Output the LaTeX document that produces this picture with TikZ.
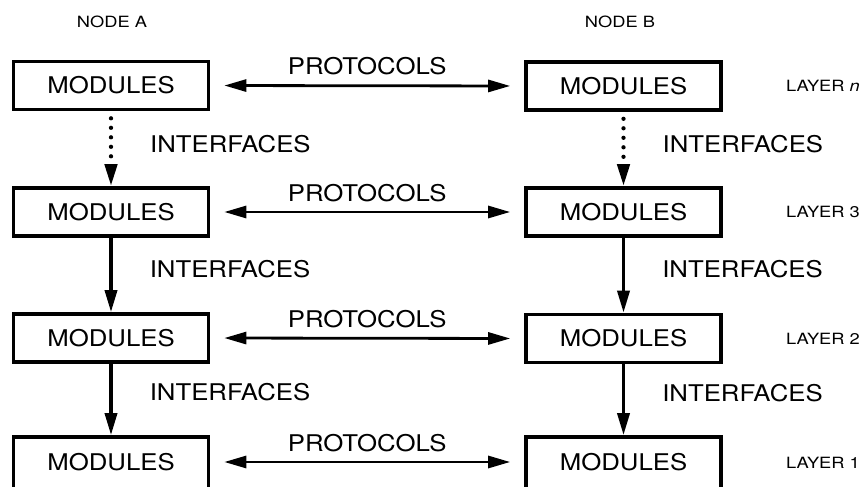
\documentclass[tikz,border=0pt]{standalone}
\usepackage{fontspec}
\setmainfont{TeX Gyre Heros}
\newfontfamily\widefont[FakeStretch=1.12]{TeX Gyre Heros}
\newfontfamily\labelfont[FakeStretch=1.18]{TeX Gyre Heros}
\usetikzlibrary{arrows.meta}

\tikzset{
  modbox/.style={draw, line width=3.6pt, minimum width=195pt, minimum height=48pt,
    inner sep=0pt, font=\widefont\fontsize{23}{26}\selectfont},
  bigtext/.style={inner sep=0pt, font=\widefont\fontsize{23}{26}\selectfont},
  smalltext/.style={inner sep=0pt, font=\labelfont\fontsize{15.5}{18}\selectfont},
  head/.style={-{Triangle[length=22pt,width=12pt]}},
  proto/.style={line width=2.8pt, {Triangle[length=22pt,width=12pt]}-{Triangle[length=22pt,width=12pt]},
    shorten <=14pt, shorten >=14pt},
  iface/.style={line width=3.5pt, head},
  dotiface/.style={line width=4.3pt, line cap=round, dash pattern=on 0pt off 9.5pt,
    head, shorten <=7pt}
}

\begin{document}
\begin{tikzpicture}[x=1pt, y=-1pt]
\useasboundingbox (0,0) rectangle (865,487);
\clip (0,0) rectangle (865,487);

% column headings
\node[smalltext] (na) at (112,22) {NODE A};
\node[smalltext] (nb) at (620,22) {NODE B};

% module boxes, node A (left) and node B (right); the lowest row runs off the page
\node[modbox] (a4) at (111,85.5) {MODULES};
\node[modbox] (a3) at (111,212) {MODULES};
\node[modbox] (a2) at (111,338) {MODULES};
\node[modbox, minimum height=56pt] (a1) at (111,465) {};
\node[bigtext] (ta1) at (111,462) {MODULES};

\node[modbox] (b4) at (623.5,86) {MODULES};
\node[modbox] (b3) at (623.5,212) {MODULES};
\node[modbox] (b2) at (623.5,338.5) {MODULES};
\node[modbox, minimum height=56pt] (b1) at (623.5,465) {};
\node[bigtext] (tb1) at (623.5,462) {MODULES};

% layer labels
\node[smalltext, anchor=west] (ln) at (786,86) {LAYER \textit{n}};
\node[smalltext, anchor=west] (l3) at (786,212) {LAYER 3};
\node[smalltext, anchor=west] (l2) at (786,339) {LAYER 2};
\node[smalltext, anchor=west] (l1) at (786,463) {LAYER 1};

% peer protocols
\foreach \r in {4,3,2}{
  \draw[proto] (a\r.east) -- node[bigtext, anchor=base, yshift=11pt] (p\r) {PROTOCOLS} (b\r.west);
}
\draw[proto] (a1.east |- ta1) -- node[bigtext, anchor=base, yshift=11pt] (p1) {PROTOCOLS} (b1.west |- tb1);

% interfaces between adjacent layers
\draw[dotiface] (a4.south) -- node[bigtext, anchor=west, xshift=37pt, yshift=5pt] (ia4) {INTERFACES} (a3.north);
\draw[dotiface] (b4.south) -- node[bigtext, anchor=west, xshift=37pt, yshift=5pt] (ib4) {INTERFACES} (b3.north);
\draw[iface] (a3.south) -- node[bigtext, anchor=west, xshift=37pt, yshift=6pt] (ia3) {INTERFACES} (a2.north);
\draw[iface] (b3.south) -- node[bigtext, anchor=west, xshift=37pt, yshift=6pt] (ib3) {INTERFACES} (b2.north);
\draw[iface] (a2.south) -- node[bigtext, anchor=west, xshift=37pt, yshift=7pt] (ia2) {INTERFACES} (a1.north);
\draw[iface] (b2.south) -- node[bigtext, anchor=west, xshift=37pt, yshift=7pt] (ib2) {INTERFACES} (b1.north);
\end{tikzpicture}
\end{document}
